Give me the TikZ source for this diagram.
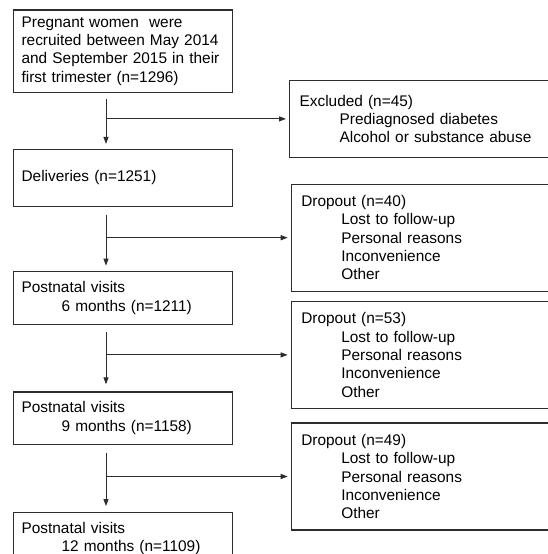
\documentclass[tikz,border=0pt]{standalone}
\usepackage{fontspec}
\setmainfont{Liberation Sans}
\usepackage{tikz}
\usetikzlibrary{positioning,arrows.meta}
\definecolor{grisborde}{RGB}{45,45,45}
\tikzset{caja/.style={draw=grisborde, line width=1.2pt, rectangle, align=left, inner xsep=8.5pt, text width=202pt}}
\tikzset{cajader/.style={caja, inner xsep=10pt, text width=250pt, minimum height=107pt}}
\tikzset{flecha/.style={draw=grisborde, line width=1pt, -{Triangle[length=7pt,width=5pt]}}}
\newcommand{\sangria}{\hspace*{40pt}}

\begin{document}
\begin{tikzpicture}[x=1pt, y=1pt, font=\fontsize{15.4}{18.3}\selectfont]
            \useasboundingbox (0,0) rectangle (548,-554);
            \clip (0,0) rectangle (548,-554);
            \coordinate (eje) at (106,0);

            \node[caja, anchor=north west, minimum height=82.4pt] (1) at (12.5,-9.3) {Pregnant women\ \ were\\recruited between May 2014\\and September 2015 in their\\first trimester (n=1296)};
            \node[caja, below=56pt of 1.south west, anchor=north west, minimum height=56.6pt] (2) {Deliveries (n=1251)};
            \node[caja, below=64pt of 2.south west, anchor=north west, minimum height=53.4pt] (3) {Postnatal visits\\\sangria 6 months (n=1211)};
            \node[caja, below=66pt of 3.south west, anchor=north west, minimum height=52.3pt] (4) {Postnatal visits\\\sangria 9 months (n=1158)};
            \node[caja, below=67.3pt of 4.south west, anchor=north west, minimum height=51pt] (5) {Postnatal visits\\\sangria 12 months (n=1109)};

            \path (1.south -| eje) ++(0,-6) coordinate (a1) ++(0,-20) coordinate (r1);
            \path (2.south -| eje) ++(0,-8) coordinate (a2) ++(0,-23) coordinate (r2);
            \path (3.south -| eje) ++(0,-6.6) coordinate (a3) ++(0,-23) coordinate (r3);
            \path (4.south -| eje) ++(0,-8.3) coordinate (a4) ++(0,-23.4) coordinate (r4);

            \node[cajader, right=183pt of r1, minimum height=77.3pt] (6) {Excluded (n=45)\\\sangria Prediagnosed diabetes\\\sangria Alcohol or substance abuse};
            \node[cajader, right=184.7pt of r2] (7) {Dropout (n=40)\\\sangria Lost to follow-up\\\sangria Personal reasons\\\sangria Inconvenience\\\sangria Other};
            \node[cajader, right=184.7pt of r3] (8) {Dropout (n=53)\\\sangria Lost to follow-up\\\sangria Personal reasons\\\sangria Inconvenience\\\sangria Other};
            \node[cajader, right=184.7pt of r4] (9) {Dropout (n=49)\\\sangria Lost to follow-up\\\sangria Personal reasons\\\sangria Inconvenience\\\sangria Other};

            \draw[flecha, shorten >=5pt] (a1) -- (a1 |- 2.north);
            \draw[flecha, shorten >=5pt] (a2) -- (a2 |- 3.north);
            \draw[flecha, shorten >=7pt] (a3) -- (a3 |- 4.north);
            \draw[flecha, shorten >=6pt] (a4) -- (a4 |- 5.north);
            \draw[flecha, shorten >=3pt] (r1) -- (6.west);
            \draw[flecha, shorten >=3pt] (r2) -- (7.west);
            \draw[flecha, shorten >=3pt] (r3) -- (8.west);
            \draw[flecha, shorten >=3pt] (r4) -- (9.west);
        \end{tikzpicture}
\end{document}
